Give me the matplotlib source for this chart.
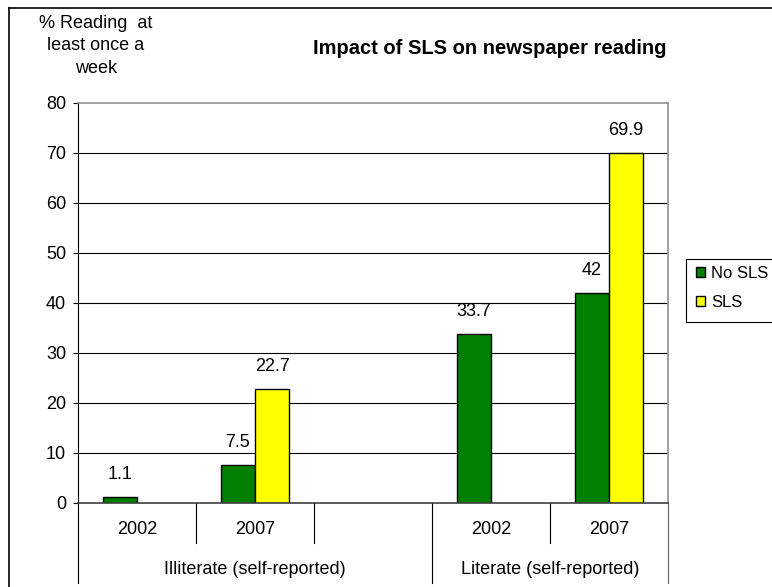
import matplotlib
matplotlib.use("Agg")
import matplotlib.pyplot as plt
import numpy as np
from matplotlib.lines import Line2D
from matplotlib.patches import Rectangle
import matplotlib.transforms as mtransforms

plt.rcParams['font.family'] = ['Liberation Sans', 'DejaVu Sans']

# Data
years = ["2002", "2007", "", "2002", "2007"]
groups = ["Illiterate (self-reported)", "Literate (self-reported)"]
no_sls = [1.1, 7.5, np.nan, 33.7, 42.0]
sls = [np.nan, 22.7, np.nan, np.nan, 69.9]
series_names = ["No SLS", "SLS"]

W, H = 772, 587
fig = plt.figure(figsize=(W / 100, H / 100), dpi=100)
ax = fig.add_axes([78 / W, 1 - 502.7 / H, (668 - 78) / W, 400 / H])

x = np.arange(len(years))
bw = 34 / 118
green = "#008000"
yellow = "#FFFF00"
b1 = ax.bar(x - bw / 2, no_sls, bw, color=green, edgecolor="black", linewidth=1.0,
            label=series_names[0], zorder=3)
b2 = ax.bar(x + bw / 2, sls, bw, color=yellow, edgecolor="black", linewidth=1.0,
            label=series_names[1], zorder=3)

# value labels above bars
for xs, vals in ((x - bw / 2, no_sls), (x + bw / 2, sls)):
    for xi, v in zip(xs, vals):
        if np.isnan(v):
            continue
        ax.annotate(f"{v:g}", (xi, v), xytext=(0, 16), textcoords="offset points",
                    ha="center", va="center", fontsize=13)

ax.set_xlim(-0.5, len(years) - 0.5)
ax.set_ylim(0, 80)
ax.set_yticks(np.arange(0, 81, 10))
ax.tick_params(axis="y", direction="out", length=3.6, width=0.8, pad=5, labelsize=13)
ax.set_xticks(x)
ax.set_xticklabels(years, fontsize=13)
ax.tick_params(axis="x", length=0, pad=13)

# gridlines
for yv in range(10, 80, 10):
    ax.axhline(yv, color="black", linewidth=0.8, zorder=1)

for side in ("top", "right"):
    ax.spines[side].set_color("#909090")
    ax.spines[side].set_linewidth(1.2)
ax.spines["left"].set_color("black")
ax.spines["left"].set_linewidth(0.8)
ax.spines["bottom"].set_color("#404040")
ax.spines["bottom"].set_linewidth(1.2)
ax.spines["bottom"].set_zorder(4)

# category separators below the axis
trans = mtransforms.blended_transform_factory(ax.transData, ax.transAxes)
short_seps = [0.5, 1.5, 3.5]
long_seps = [-0.5, 2.5, 4.5]
for s in short_seps:
    ax.add_line(Line2D([s, s], [0, -0.1], transform=trans, color="black",
                       linewidth=0.8, clip_on=False))
for s in long_seps:
    col = "#606060" if s == 4.5 else "black"
    ax.add_line(Line2D([s, s], [0, -0.2], transform=trans, color=col,
                       linewidth=0.8, clip_on=False))

# group labels
group_centers = [1.0, 3.5]
for gx, g in zip(group_centers, groups):
    ax.text(gx, -0.1675, g, transform=trans, ha="center", va="center", fontsize=13)

# title and y label
fig.text(490 / W, 1 - 48 / H, "Impact of SLS on newspaper reading",
         ha="center", va="center", fontsize=14.5, fontweight="bold")
fig.text(96 / W, 1 - 46 / H, "% Reading  at\nleast once a\nweek", ha="center",
         va="center", fontsize=13, multialignment="center", linespacing=1.45)

# legend
leg = fig.legend(handles=[b1, b2], labels=series_names, loc="upper left",
                 bbox_to_anchor=(688 / W, 1 - 258 / H), frameon=False,
                 fontsize=12, handlelength=0.55, handleheight=0.55,
                 handletextpad=0.4, labelspacing=0.85, borderpad=0.45,
                 borderaxespad=0)
fig.add_artist(Rectangle((686 / W, 1 - 322 / H), 120 / W, 63 / H,
                         transform=fig.transFigure, fill=False,
                         edgecolor="black", linewidth=0.8))

# chart frame
fig.add_artist(Line2D([8.5 / W, 1], [1 - 8 / H, 1 - 8 / H], transform=fig.transFigure,
                      color="black", linewidth=1.2))
fig.add_artist(Line2D([8.5 / W, 8.5 / W], [0, 1 - 8 / H], transform=fig.transFigure,
                      color="black", linewidth=1.2))

fig.savefig("out.png", dpi=100)
